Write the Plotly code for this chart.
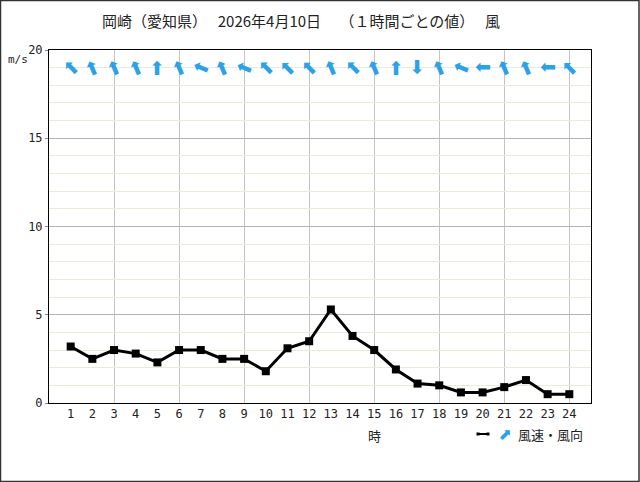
import plotly.graph_objects as go

hours = list(range(1, 25))
wind_speed = [3.2, 2.5, 3.0, 2.8, 2.3, 3.0, 3.0, 2.5, 2.5, 1.8, 3.1, 3.5,
              5.3, 3.8, 3.0, 1.9, 1.1, 1.0, 0.6, 0.6, 0.9, 1.3, 0.5, 0.5]
# direction the arrow points (degrees clockwise from up)
arrow_angle = [-45, -22.5, -22.5, -22.5, 0, -22.5, -67.5, -22.5, -67.5, -45, -45, -45,
               -22.5, -45, -22.5, 0, 180, -22.5, -67.5, -90, -22.5, -22.5, -90, -45]
arrow_row = 19
title = "岡崎（愛知県）　 2026年4月10日　 （１時間ごとの値）　 風"
font_jp = "Noto Sans CJK JP"
num_font = "DejaVu Sans Mono, monospace"
ARROW = "\u2b06"
ARROW_FILL = "#2ba2e8"

fig = go.Figure()

fig.add_trace(go.Scatter(
    x=hours, y=wind_speed, mode="lines+markers",
    line=dict(color="black", width=3),
    marker=dict(symbol="square", size=8, color="black"),
    showlegend=False, hoverinfo="x+y"))

fig.update_layout(
    width=640, height=482,
    margin=dict(l=49, r=49, t=50, b=79),
    paper_bgcolor="white", plot_bgcolor="white",
    font=dict(family=font_jp, size=12, color="#222"),
    title=dict(text=title, xref="container", x=301 / 640, xanchor="center",
               y=1 - 22 / 482, yanchor="middle",
               font=dict(family=font_jp, size=15, color="#222")),
    xaxis=dict(range=[0, 25], tickvals=hours, ticktext=[str(h) for h in hours],
               showgrid=False, zeroline=False, ticks="",
               showline=True, linecolor="black", linewidth=1, mirror=True,
               tickfont=dict(family=num_font, size=12, color="#222"),
               minor=dict(tickvals=list(range(3, 25, 3)), showgrid=True,
                          gridcolor="#c4c4c4", gridwidth=1, ticks="")),
    yaxis=dict(range=[0, 20], tickvals=[0, 5, 10, 15, 20],
               showgrid=True, gridcolor="#b4b4b4", gridwidth=1, zeroline=False,
               ticks="outside", ticklen=3, tickcolor="#888",
               showline=True, linecolor="black", linewidth=1, mirror=True,
               tickfont=dict(family=num_font, size=12, color="#222"),
               minor=dict(dtick=1, showgrid=True, gridcolor="#ece8da", gridwidth=1)),
)


def add_arrow(x, y, angle, xref="x", yref="y", size=19):
    fig.add_annotation(text=ARROW, x=x, y=y, xref=xref, yref=yref, showarrow=False,
                       textangle=angle, xanchor="center", yanchor="middle",
                       font=dict(family="DejaVu Sans", size=size, color=ARROW_FILL))


for h, a in zip(hours, arrow_angle):
    add_arrow(h, arrow_row, a)

# outer frame of the image
fig.add_shape(type="rect", xref="paper", yref="paper",
              x0=-48.5 / 542, x1=590 / 542, y0=-78.5 / 353, y1=402.5 / 353,
              line=dict(color="#333", width=1.5), fillcolor="rgba(0,0,0,0)", layer="above")

fig.add_annotation(text="m/s", xref="paper", yref="paper", x=-31 / 542, y=(403 - 60) / 353,
                   showarrow=False, xanchor="center", yanchor="middle",
                   font=dict(family=num_font, size=11, color="#222"))
fig.add_annotation(text="時", xref="x", yref="paper", x=15, y=-(435 - 403) / 353,
                   showarrow=False, xanchor="center", yanchor="middle",
                   font=dict(family=font_jp, size=13, color="#222"))

# legend
leg_y = -(434 - 403) / 353
fig.add_shape(type="line", xref="paper", yref="paper",
              x0=(478 - 49) / 542, x1=(488 - 49) / 542, y0=leg_y, y1=leg_y,
              line=dict(color="black", width=2))
for px in (478, 488):
    fig.add_shape(type="rect", xref="paper", yref="paper",
                  x0=(px - 1.5 - 49) / 542, x1=(px + 1.5 - 49) / 542,
                  y0=leg_y - 1.5 / 353, y1=leg_y + 1.5 / 353,
                  line=dict(width=0), fillcolor="black")
add_arrow((505 - 49) / 542, leg_y, 45, xref="paper", yref="paper", size=16)
fig.add_annotation(text="風速・風向", xref="paper", yref="paper", x=(516 - 49) / 542, y=leg_y,
                   showarrow=False, xanchor="left", yanchor="middle",
                   font=dict(family=font_jp, size=13, color="#222"))

fig.write_html("out.html", config={"displayModeBar": False},
               post_script="document.body.style.margin='0';document.body.style.overflow='hidden';")
